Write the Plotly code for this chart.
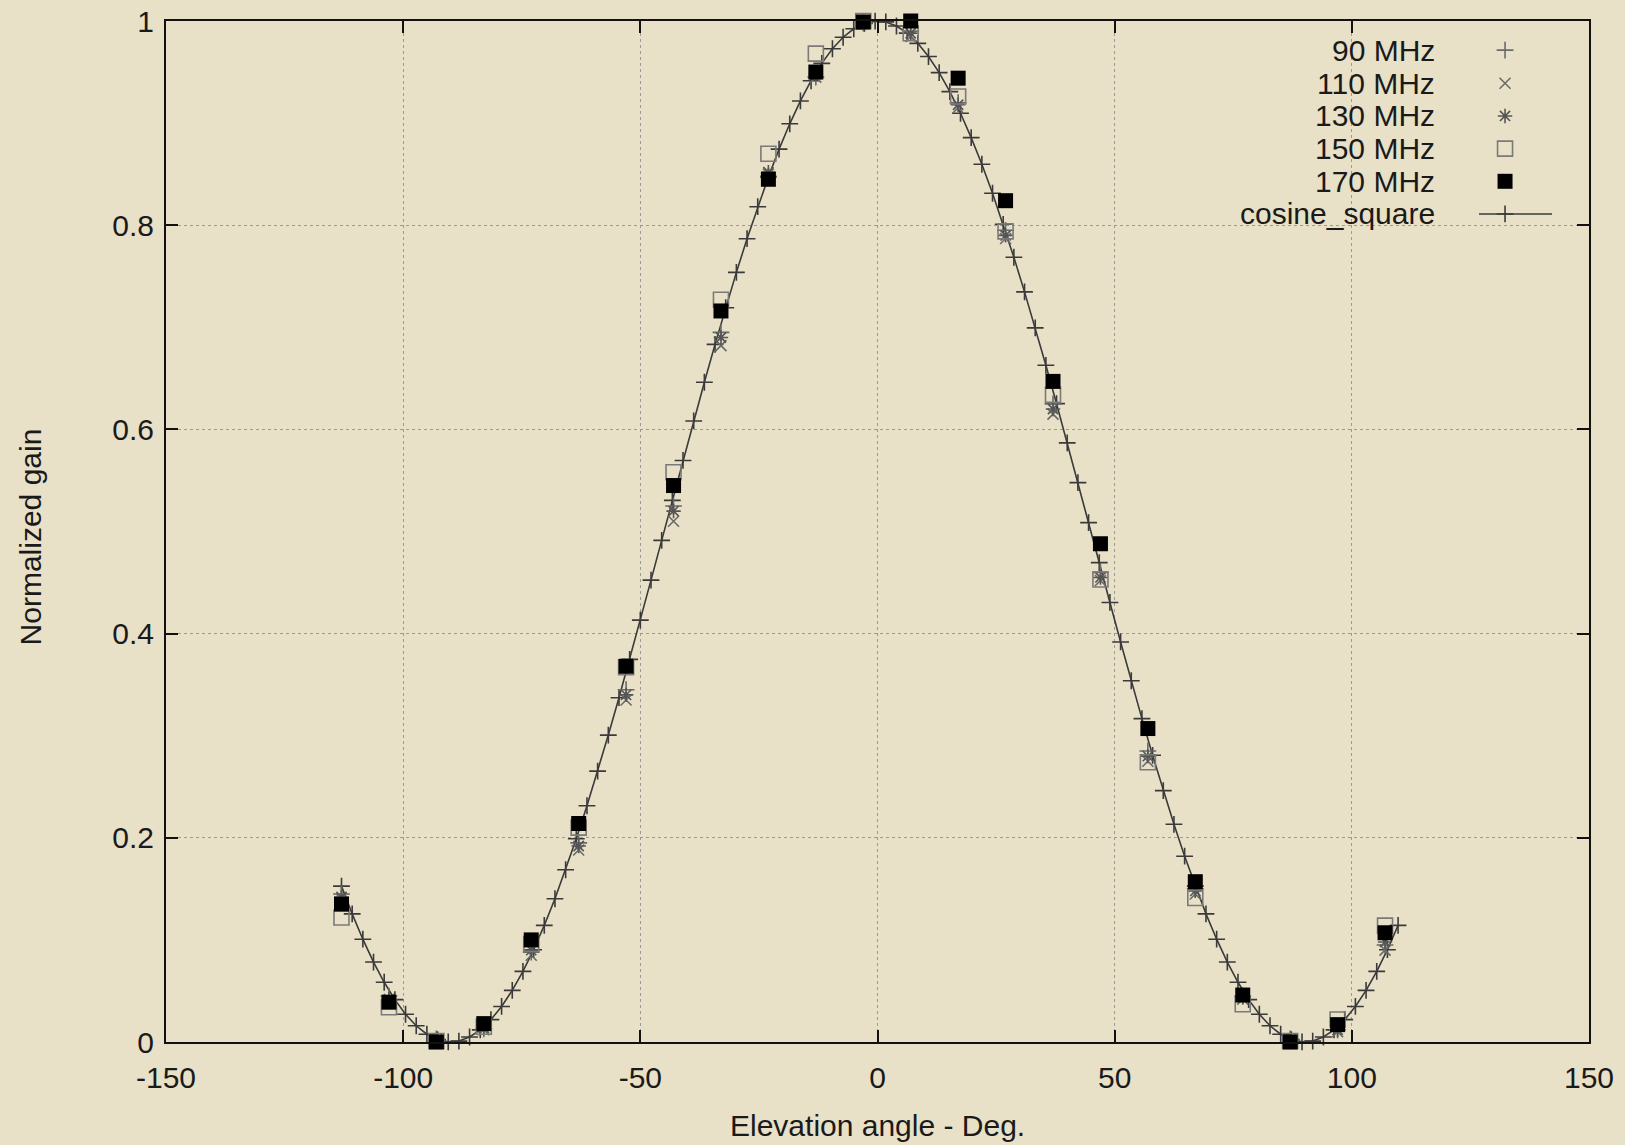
import plotly.graph_objects as go

# ---------------- data ----------------
angles = [-113, -103, -93, -83, -73, -63, -53, -43, -33, -23, -13, -3,
          7, 17, 27, 37, 47, 57, 67, 77, 87, 97, 107]

gain_90 = [0.145, 0.045, 0.003, 0.013, 0.088, 0.195, 0.345, 0.525, 0.695, 0.848, 0.945, 0.998,
           0.990, 0.920, 0.795, 0.625, 0.460, 0.285, 0.150, 0.045, 0.003, 0.012, 0.095]
gain_110 = [0.140, 0.040, 0.002, 0.012, 0.085, 0.188, 0.335, 0.510, 0.682, 0.850, 0.945, 1.000,
            0.985, 0.915, 0.787, 0.615, 0.452, 0.275, 0.145, 0.042, 0.002, 0.010, 0.090]
gain_130 = [0.142, 0.042, 0.002, 0.014, 0.090, 0.192, 0.340, 0.520, 0.690, 0.852, 0.948, 0.999,
            0.988, 0.918, 0.790, 0.620, 0.455, 0.280, 0.148, 0.044, 0.002, 0.012, 0.098]
gain_150 = [0.122, 0.034, 0.001, 0.015, 0.096, 0.210, 0.367, 0.558, 0.727, 0.870, 0.968, 1.000,
            0.988, 0.926, 0.794, 0.634, 0.453, 0.274, 0.141, 0.037, 0.001, 0.022, 0.114]
gain_170 = [0.135, 0.039, 0.000, 0.018, 0.100, 0.214, 0.368, 0.545, 0.716, 0.845, 0.950, 0.999,
            1.000, 0.944, 0.824, 0.647, 0.488, 0.307, 0.157, 0.046, 0.000, 0.017, 0.107]

cos_x = [-113, -110.75, -108.5, -106.25, -104, -101.75, -99.5, -97.25, -95, -92.75,
         -90.5, -88.25, -86, -83.75, -81.5, -79.25, -77, -74.75, -72.5, -70.25,
         -68, -65.75, -63.5, -61.25, -59, -56.75, -54.5, -52.25, -50, -47.75,
         -45.5, -43.25, -41, -38.75, -36.5, -34.25, -32, -29.75, -27.5, -25.25,
         -23, -20.75, -18.5, -16.25, -14, -11.75, -9.5, -7.25, -5, -2.75,
         -0.5, 1.75, 4, 6.25, 8.5, 10.75, 13, 15.25, 17.5, 19.75,
         22, 24.25, 26.5, 28.75, 31, 33.25, 35.5, 37.75, 40, 42.25,
         44.5, 46.75, 49, 51.25, 53.5, 55.75, 58, 60.25, 62.5, 64.75,
         67, 69.25, 71.5, 73.75, 76, 78.25, 80.5, 82.75, 85, 87.25,
         89.5, 91.75, 94, 96.25, 98.5, 100.75, 103, 105.25, 107.5, 109.75]
cos_y = [0.1527, 0.1255, 0.1007, 0.0783, 0.0585, 0.0415, 0.0272, 0.0159, 0.0076, 0.0023,
         0.0001, 0.0009, 0.0049, 0.0119, 0.0219, 0.0348, 0.0506, 0.0692, 0.0904, 0.1142,
         0.1403, 0.1687, 0.1991, 0.2314, 0.2653, 0.3006, 0.3372, 0.3748, 0.4132, 0.4524,
         0.4913, 0.5305, 0.5696, 0.6083, 0.6462, 0.6833, 0.7192, 0.7538, 0.7868, 0.8181,
         0.8473, 0.8745, 0.8993, 0.9217, 0.9415, 0.9585, 0.9728, 0.9841, 0.9924, 0.9977,
         0.9999, 0.9991, 0.9951, 0.9881, 0.9781, 0.9652, 0.9494, 0.9308, 0.9096, 0.8858,
         0.8597, 0.8313, 0.8009, 0.7686, 0.7347, 0.6994, 0.6628, 0.6252, 0.5868, 0.5479,
         0.5087, 0.4695, 0.4305, 0.3918, 0.3538, 0.3167, 0.2808, 0.2462, 0.2132, 0.1820,
         0.1527, 0.1255, 0.1007, 0.0783, 0.0585, 0.0415, 0.0272, 0.0159, 0.0076, 0.0023,
         0.0001, 0.0009, 0.0049, 0.0119, 0.0219, 0.0348, 0.0506, 0.0692, 0.0904, 0.1142]

series_names = ["90 MHz", "110 MHz", "130 MHz", "150 MHz", "170 MHz"]
curve_name = "cosine_square"
x_ticks = [-150, -100, -50, 0, 50, 100, 150]
x_tick_labels = ["-150", "-100", "-50", "0", "50", "100", "150"]
y_ticks = [0, 0.2, 0.4, 0.6, 0.8, 1]
y_tick_labels = ["0", "0.2", "0.4", "0.6", "0.8", "1"]

# ---------------- styles ----------------
BG = "#E8E1C7"
FONT = "Liberation Sans, Arial, Helvetica, sans-serif"
FS = 30
styles = [
    dict(symbol="cross-thin-open", size=12, color="#6a6a6a", line=dict(width=1.6, color="#6a6a6a")),
    dict(symbol="x-thin-open", size=11, color="#6a6a6a", line=dict(width=1.6, color="#6a6a6a")),
    dict(symbol="asterisk-open", size=12, color="#555555", line=dict(width=1.6, color="#555555")),
    dict(symbol="square-open", size=15, color="#7a7a7a", line=dict(width=1.6, color="#7a7a7a")),
    dict(symbol="square", size=15, color="#000000", line=dict(width=0, color="#000000")),
]
series_vals = [gain_90, gain_110, gain_130, gain_150, gain_170]

fig = go.Figure()

# cosine_square curve (lines + '+' points)
fig.add_trace(go.Scatter(
    x=cos_x, y=cos_y, mode="lines+markers", name=curve_name,
    line=dict(color="#3a3a3a", width=1.6),
    marker=dict(symbol="cross-thin-open", size=12, color="#3a3a3a",
                line=dict(width=1.6, color="#3a3a3a")),
    cliponaxis=False, showlegend=False))

for name, vals, st in zip(series_names, series_vals, styles):
    fig.add_trace(go.Scatter(
        x=angles, y=vals, mode="markers", name=name, marker=st,
        cliponaxis=False, showlegend=False))

# ---------------- custom legend (right-aligned labels, samples on the right) ----------------
leg_text_x = 0.893
leg_mark_x = 0.941
leg_rows = [0.9715, 0.939, 0.907, 0.875, 0.843, 0.811]
for name, st, ry in zip(series_names, styles, leg_rows):
    fig.add_trace(go.Scatter(x=[leg_mark_x], y=[ry], mode="markers", marker=st,
                             xaxis="x2", yaxis="y2", showlegend=False, hoverinfo="skip",
                             cliponaxis=False))
    fig.add_annotation(text=name, x=leg_text_x, y=ry, xref="paper", yref="paper",
                       xanchor="right", yanchor="middle", showarrow=False,
                       font=dict(family=FONT, size=FS, color="#1a1a1a"))
# cosine_square legend sample
fig.add_trace(go.Scatter(x=[0.9227, 0.974], y=[leg_rows[5], leg_rows[5]], mode="lines",
                         line=dict(color="#3a3a3a", width=1.6), xaxis="x2", yaxis="y2",
                         showlegend=False, hoverinfo="skip", cliponaxis=False))
fig.add_trace(go.Scatter(x=[leg_mark_x], y=[leg_rows[5]], mode="markers",
                         marker=dict(symbol="cross-thin-open", size=12, color="#3a3a3a",
                                     line=dict(width=1.6, color="#3a3a3a")),
                         xaxis="x2", yaxis="y2", showlegend=False, hoverinfo="skip",
                         cliponaxis=False))
fig.add_annotation(text=curve_name, x=leg_text_x, y=leg_rows[5], xref="paper", yref="paper",
                   xanchor="right", yanchor="middle", showarrow=False,
                   font=dict(family=FONT, size=FS, color="#1a1a1a"))

# axis titles
fig.add_annotation(text="Elevation angle - Deg.", x=0.5, y=-0.082, xref="paper", yref="paper",
                   xanchor="center", yanchor="middle", showarrow=False,
                   font=dict(family=FONT, size=FS, color="#1a1a1a"))
fig.add_annotation(text="Normalized gain", x=-0.095, y=0.495, xref="paper", yref="paper",
                   xanchor="center", yanchor="middle", showarrow=False, textangle=-90,
                   font=dict(family=FONT, size=FS, color="#1a1a1a"))

axis_common = dict(
    showline=True, linecolor="#111111", linewidth=2, mirror="ticks",
    ticks="inside", ticklen=12, tickwidth=1.5, tickcolor="#111111",
    showgrid=True, gridcolor="#9a9a9a", griddash="dot", gridwidth=1,
    zeroline=False, automargin=False, ticklabeloverflow="allow",
    tickfont=dict(family=FONT, size=FS, color="#1a1a1a"),
)

fig.update_layout(
    width=1625, height=1145,
    margin=dict(l=166, r=36, t=21, b=103),
    paper_bgcolor=BG, plot_bgcolor=BG,
    showlegend=False,
    xaxis=dict(range=[-150, 150], tickvals=x_ticks, ticktext=x_tick_labels,
               ticklabelstandoff=8, **axis_common),
    yaxis=dict(range=[0, 1], tickvals=y_ticks, ticktext=y_tick_labels,
               ticklabelstandoff=4, **axis_common),
    xaxis2=dict(range=[0, 1], overlaying="x", visible=False),
    yaxis2=dict(range=[0, 1], overlaying="y", visible=False),
)

# remove the page's default body margin so the figure fills the window
page_css = ("document.body.style.margin='0';"
            "document.body.style.overflow='hidden';"
            "document.documentElement.style.background='" + BG + "';")
fig.write_html("out.html", post_script=page_css, config={"displayModeBar": False})
